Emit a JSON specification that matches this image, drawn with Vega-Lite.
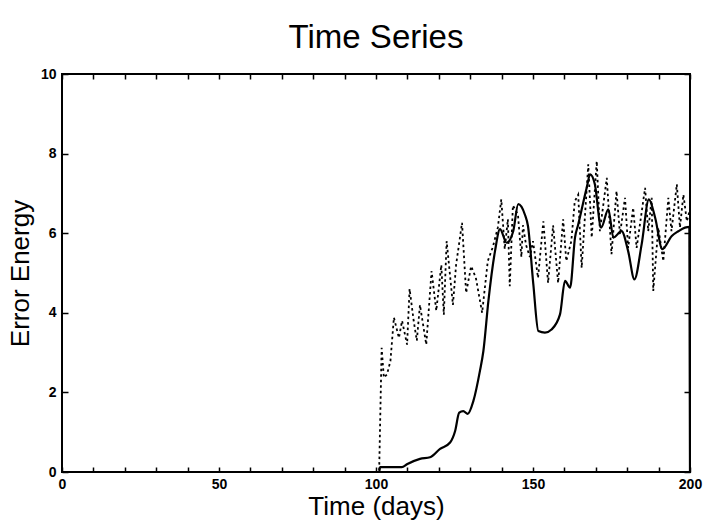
{
  "$schema": "https://vega.github.io/schema/vega-lite/v6.json",
  "width": 628,
  "height": 398,
  "autosize": "none",
  "padding": {"left": 62, "top": 74, "right": 14, "bottom": 51},
  "background": "white",
  "config": {
    "font": "Liberation Sans",
    "view": {"stroke": "black", "strokeWidth": 2},
    "axis": {"domain": false, "grid": false, "tickColor": "black", "tickWidth": 1.5, "labelColor": "black", "titleColor": "black", "labelFont": "Liberation Sans", "titleFont": "Liberation Sans", "labelFontSize": 14, "labelFontWeight": "bold", "titleFontSize": 26, "titleFontWeight": "normal"}
  },
  "title": {"text": "Time Series", "fontSize": 33, "fontWeight": "normal", "font": "Liberation Sans", "color": "black", "anchor": "middle", "offset": 12},
  "datasets": {
    "dotted": [
      {"t": 0, "e": 0}, {"t": 101, "e": 0}, {"t": 101.8, "e": 3.12}, {"t": 102.5, "e": 2.37}, {"t": 103.5, "e": 2.45},
      {"t": 104.6, "e": 2.79}, {"t": 105.7, "e": 3.88}, {"t": 107.3, "e": 3.37}, {"t": 108.3, "e": 3.8}, {"t": 109.9, "e": 3.2},
      {"t": 110.7, "e": 4.6}, {"t": 112, "e": 3.8}, {"t": 113, "e": 3.3}, {"t": 114, "e": 4.2}, {"t": 116, "e": 3.2},
      {"t": 117.7, "e": 5.05}, {"t": 119.2, "e": 4.05}, {"t": 120.8, "e": 5.2}, {"t": 121.6, "e": 3.95}, {"t": 122.5, "e": 5.8},
      {"t": 124.5, "e": 4.2}, {"t": 125.5, "e": 5.2}, {"t": 127.4, "e": 6.26}, {"t": 128.7, "e": 4.5}, {"t": 130.3, "e": 5.17},
      {"t": 131.8, "e": 4.88}, {"t": 133.8, "e": 4.0}, {"t": 135.6, "e": 5.3}, {"t": 137.2, "e": 5.65}, {"t": 138.8, "e": 6.14},
      {"t": 139.9, "e": 6.85}, {"t": 141, "e": 5.6}, {"t": 142, "e": 6.35}, {"t": 142.6, "e": 4.67}, {"t": 143.6, "e": 6.7},
      {"t": 145.2, "e": 6.47}, {"t": 146.3, "e": 5.4}, {"t": 146.8, "e": 6.2}, {"t": 147.8, "e": 5.7}, {"t": 149, "e": 5.4},
      {"t": 150, "e": 5.8}, {"t": 151.6, "e": 4.88}, {"t": 153.3, "e": 6.3}, {"t": 154.8, "e": 4.75}, {"t": 156.4, "e": 6.2},
      {"t": 158, "e": 4.75}, {"t": 159.6, "e": 6.35}, {"t": 160.6, "e": 5.3}, {"t": 162.2, "e": 5.8}, {"t": 163.3, "e": 6.8},
      {"t": 164.4, "e": 6.97}, {"t": 165.5, "e": 5.13}, {"t": 167.6, "e": 7.73}, {"t": 168.7, "e": 5.89}, {"t": 170.3, "e": 7.81},
      {"t": 171.3, "e": 6.05}, {"t": 173.5, "e": 7.39}, {"t": 175, "e": 5.47}, {"t": 176.6, "e": 7.06}, {"t": 177.7, "e": 5.97},
      {"t": 179.3, "e": 6.89}, {"t": 180.3, "e": 5.63}, {"t": 181.9, "e": 6.64}, {"t": 183, "e": 5.63}, {"t": 185.7, "e": 7.14},
      {"t": 186.7, "e": 6.05}, {"t": 187.8, "e": 6.89}, {"t": 188.3, "e": 4.55}, {"t": 189.9, "e": 6.14}, {"t": 191.5, "e": 5.3},
      {"t": 193.1, "e": 6.89}, {"t": 194.1, "e": 6.05}, {"t": 195.8, "e": 7.23}, {"t": 196.8, "e": 6.14}, {"t": 197.9, "e": 6.97},
      {"t": 199, "e": 6.3}, {"t": 200, "e": 6.6}
    ],
    "solid": [
      {"t": 0, "e": 0}, {"t": 101, "e": 0}, {"t": 101.3, "e": 0.12}, {"t": 108.2, "e": 0.12}, {"t": 110, "e": 0.2},
      {"t": 114, "e": 0.33}, {"t": 117.2, "e": 0.37}, {"t": 120.4, "e": 0.58}, {"t": 123.6, "e": 0.74}, {"t": 125.2, "e": 1.03},
      {"t": 126.5, "e": 1.49}, {"t": 127.8, "e": 1.53}, {"t": 129.2, "e": 1.46}, {"t": 131, "e": 1.78}, {"t": 133.1, "e": 2.54},
      {"t": 134.2, "e": 3.04}, {"t": 135.8, "e": 4.3}, {"t": 137.9, "e": 5.55}, {"t": 139.5, "e": 6.1}, {"t": 141.6, "e": 5.76},
      {"t": 143.7, "e": 6.05}, {"t": 145.3, "e": 6.73}, {"t": 147.4, "e": 6.47}, {"t": 148.4, "e": 6.18}, {"t": 150.1, "e": 4.72},
      {"t": 151.7, "e": 3.54}, {"t": 153.8, "e": 3.5}, {"t": 155.9, "e": 3.58}, {"t": 158.6, "e": 3.96}, {"t": 160.2, "e": 4.8},
      {"t": 161.8, "e": 4.63}, {"t": 163.4, "e": 5.9}, {"t": 164.4, "e": 6.22}, {"t": 167.1, "e": 7.14}, {"t": 168.2, "e": 7.48},
      {"t": 169.7, "e": 7.23}, {"t": 171.7, "e": 6.14}, {"t": 174, "e": 6.6}, {"t": 175.6, "e": 5.89}, {"t": 178.2, "e": 6.05},
      {"t": 180.3, "e": 5.55}, {"t": 182.3, "e": 4.84}, {"t": 184.6, "e": 5.72}, {"t": 186.9, "e": 6.85}, {"t": 188.9, "e": 6.39},
      {"t": 191.2, "e": 5.6}, {"t": 194.2, "e": 5.93}, {"t": 196.3, "e": 6.05}, {"t": 198.4, "e": 6.14}, {"t": 199.8, "e": 6.16},
      {"t": 200, "e": 0}
    ]
  },
  "layer": [
    {
      "data": {"name": "dotted"},
      "mark": {"type": "line", "color": "black", "strokeWidth": 1.8, "strokeDash": [2.5, 3], "clip": true},
      "encoding": {
        "x": {"field": "t", "type": "quantitative", "scale": {"domain": [0, 200], "nice": false, "zero": false},
          "axis": {"orient": "bottom", "title": "Time (days)", "values": [0,10,20,30,40,50,60,70,80,90,100,110,120,130,140,150,160,170,180,190,200], "labelExpr": "datum.value % 50 == 0 ? datum.label : ''", "tickSize": -5, "labelPadding": 10, "titlePadding": 2, "labelFlush": false, "labelOverlap": false}},
        "y": {"field": "e", "type": "quantitative", "scale": {"domain": [0, 10], "nice": false},
          "axis": {"orient": "left", "title": "Error Energy", "values": [0,2,4,6,8,10], "tickSize": -6, "labelPadding": 12, "titlePadding": 7, "labelFlush": false, "labelOverlap": false}}
      }
    },
    {
      "data": {"name": "solid"},
      "mark": {"type": "line", "color": "black", "strokeWidth": 2.2, "clip": true, "interpolate": "monotone"},
      "encoding": {
        "x": {"field": "t", "type": "quantitative", "scale": {"domain": [0, 200], "nice": false, "zero": false},
          "axis": {"orient": "top", "title": null, "values": [0,10,20,30,40,50,60,70,80,90,100,110,120,130,140,150,160,170,180,190,200], "labels": false, "tickSize": -5}},
        "y": {"field": "e", "type": "quantitative", "scale": {"domain": [0, 10], "nice": false},
          "axis": {"orient": "right", "title": null, "values": [0,2,4,6,8,10], "labels": false, "tickSize": -6}}
      }
    }
  ],
  "resolve": {"axis": {"x": "independent", "y": "independent"}}
}
